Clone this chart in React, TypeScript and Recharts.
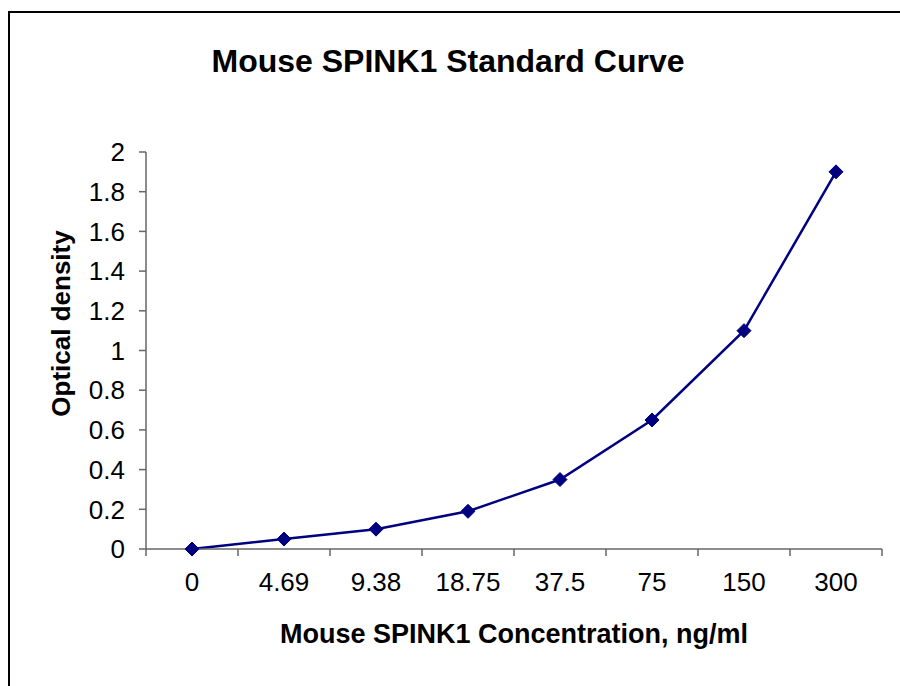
import { LineChart, Line, XAxis, YAxis } from 'recharts'

// concentrations (ng/ml) and measured optical density
const concentrations = ['0', '4.69', '9.38', '18.75', '37.5', '75', '150', '300']
const opticalDensity = [0, 0.05, 0.1, 0.19, 0.35, 0.65, 1.1, 1.9]
const yTicks = [0, 0.2, 0.4, 0.6, 0.8, 1, 1.2, 1.4, 1.6, 1.8, 2]

const data = concentrations.map((c, i) => ({ conc: c, od: opticalDensity[i] }))

const FONT = 'Arial, "Liberation Sans", sans-serif'
const AXIS = '#666666'
const NAVY = '#000080'
const TICK = 7
const TICK_GAP = 17

const Diamond = (props: any) => {
    const { cx, cy } = props
    if (cx == null || cy == null) return null
    const r = 7
    return (
        <polygon
            points={`${cx},${cy - r} ${cx + r},${cy} ${cx},${cy + r} ${cx - r},${cy}`}
            fill={NAVY}
            stroke={NAVY}
        />
    )
}

// category label plus tick marks on the band edges (excel style)
const XTick = (props: any) => {
    const { x, y, payload, index, visibleTicksCount } = props
    const half = payload && payload.offset ? payload.offset : 46
    const axisY = y - TICK - TICK_GAP
    const last = index === visibleTicksCount - 1
    return (
        <g>
            <line x1={x - half} y1={axisY} x2={x - half} y2={axisY + TICK} stroke={AXIS} strokeWidth={1.5} />
            {last && (
                <line x1={x + half} y1={axisY} x2={x + half} y2={axisY + TICK} stroke={AXIS} strokeWidth={1.5} />
            )}
            <text x={x} y={y} dy='0.71em' textAnchor='middle' fontFamily={FONT} fontSize={26} fill='#000'>
                {payload.value}
            </text>
        </g>
    )
}

const YTitle = (props: any) => {
    const vb = props.viewBox || {}
    const x = vb.x + vb.width / 2 - 12
    const y = vb.y + vb.height / 2 - 27
    return (
        <text
            x={x}
            y={y}
            transform={`rotate(-90 ${x} ${y})`}
            textAnchor='middle'
            dominantBaseline='central'
            fontFamily={FONT}
            fontWeight='bold'
            fontSize={26}
            fill='#000'
        >
            Optical density
        </text>
    )
}

const XTitle = (props: any) => {
    const vb = props.viewBox || {}
    return (
        <text
            x={vb.x + vb.width / 2}
            y={vb.y + 94}
            textAnchor='middle'
            fontFamily={FONT}
            fontWeight='bold'
            fontSize={27}
            fill='#000'
        >
            Mouse SPINK1 Concentration, ng/ml
        </text>
    )
}

const App = () => {
    return (
        <div style={{ position: 'absolute', left: 0, top: 0, width: 900, height: 686, overflow: 'hidden', background: '#fff' }}>
            <div
                style={{
                    position: 'absolute', left: 8, top: 11, width: 920, height: 720,
                    border: '2px solid #000', boxSizing: 'border-box',
                }}
            />
            <div
                style={{
                    position: 'absolute', left: 0, top: 45, width: 896, textAlign: 'center',
                    fontFamily: FONT, fontWeight: 'bold', fontSize: 32, lineHeight: '32px',
                }}
            >
                Mouse SPINK1 Standard Curve
            </div>
            <div style={{ position: 'absolute', left: 0, top: 0 }}>
                <LineChart
                    width={900}
                    height={686}
                    data={data}
                    margin={{ top: 152, right: 18, bottom: 0, left: 0 }}
                >
                    <XAxis
                        dataKey='conc'
                        scale='band'
                        height={137}
                        axisLine={{ stroke: AXIS, strokeWidth: 1.5 }}
                        tickLine={false}
                        tickSize={TICK}
                        tickMargin={TICK_GAP}
                        interval={0}
                        tick={<XTick />}
                        label={<XTitle />}
                    />
                    <YAxis
                        domain={[0, 2]}
                        ticks={yTicks}
                        width={146}
                        tickSize={7}
                        tickMargin={14}
                        interval={0}
                        tickFormatter={(v: number) => String(Number(v.toFixed(1)))}
                        tick={{ fill: '#000', fontFamily: FONT, fontSize: 26 }}
                        axisLine={{ stroke: AXIS, strokeWidth: 1.5 }}
                        tickLine={{ stroke: AXIS, strokeWidth: 1.5 }}
                        label={<YTitle />}
                    />
                    <Line
                        dataKey='od'
                        stroke={NAVY}
                        strokeWidth={2.5}
                        dot={<Diamond />}
                        activeDot={false}
                        isAnimationActive={false}
                    />
                </LineChart>
            </div>
        </div>
    )
}

export default App
